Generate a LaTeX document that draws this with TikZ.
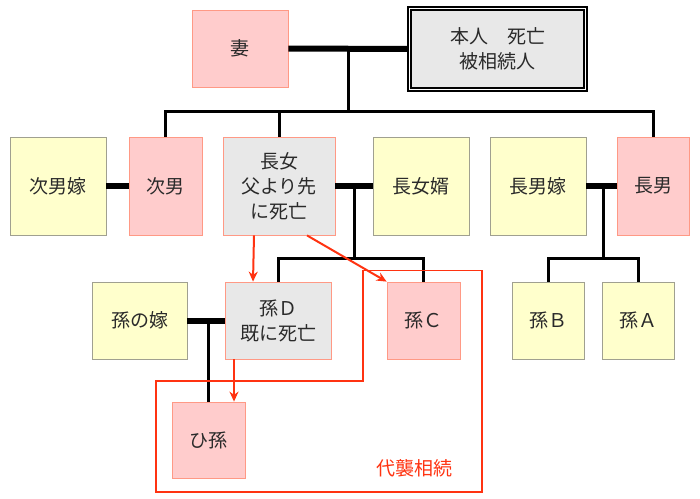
\documentclass[tikz,border=0pt]{standalone}
\usepackage{fontspec}
\newfontfamily\jp{Noto Sans CJK JP}
\usetikzlibrary{arrows.meta}
\definecolor{pinkfill}{HTML}{FFCCCC}
\definecolor{pinkline}{HTML}{FF9985}
\definecolor{yelfill}{HTML}{FFFFCC}
\definecolor{yelline}{HTML}{A0A090}
\definecolor{grayfill}{HTML}{E8E8E8}
\definecolor{redline}{HTML}{FF3311}
\definecolor{txt}{HTML}{2A2A2A}

\begin{document}
\begin{tikzpicture}[x=1pt,y=-1pt,
    box/.style={rectangle,inner sep=0pt,line width=0.8pt,align=center,text=txt,
      font=\jp\fontsize{19}{25}\selectfont},
    pinkbox/.style={box,fill=pinkfill,draw=pinkline},
    yelbox/.style={box,fill=yelfill,draw=yelline},
    deadbox/.style={box,fill=grayfill,draw=pinkline},
    tie/.style={line width=6pt},
    kin/.style={line width=3pt},
    heir/.style={draw=redline,line width=2pt,-{Stealth[length=10pt,width=9pt]}}]
    \useasboundingbox (0,0) rectangle (700,498);
    \def\rowb{186}
    \def\rowc{320.5}
    % generation 1
    \node[pinkbox,minimum width=96,minimum height=77] (tsuma) at (240,48.5) {妻};
    \node[box,fill=grayfill,draw=black,line width=1.4pt,double=white,double distance=1.6pt,
      minimum width=176,minimum height=81] (honnin) at (497.5,49) {本人　死亡\\被相続人};
    % generation 2
    \node[yelbox,minimum width=96,minimum height=98] (jinanyome) at (58,\rowb) {次男嫁};
    \node[pinkbox,minimum width=73,minimum height=98] (jinan) at (165.5,\rowb) {次男};
    \node[deadbox,minimum width=112,minimum height=98] (chojo) at (279,\rowb) {長女\\父より先\\に死亡};
    \node[yelbox,minimum width=96,minimum height=98] (chojomuko) at (421,\rowb) {長女婿};
    \node[yelbox,minimum width=96,minimum height=98] (chonanyome) at (538,\rowb) {長男嫁};
    \node[pinkbox,minimum width=72,minimum height=98] (chonan) at (653,\rowb) {長男};
    % generation 3
    \node[yelbox,minimum width=95,minimum height=77] (magoyome) at (139.5,\rowc) {孫の嫁};
    \node[deadbox,minimum width=106,minimum height=77] (magoD) at (278,\rowc) {孫Ｄ\\既に死亡};
    \node[pinkbox,minimum width=73,minimum height=77] (magoC) at (423.5,\rowc) {孫Ｃ};
    \node[yelbox,minimum width=72,minimum height=77] (magoB) at (548,\rowc) {孫Ｂ};
    \node[yelbox,minimum width=72,minimum height=77] (magoA) at (638,\rowc) {孫Ａ};
    \node[pinkbox,minimum width=73,minimum height=76] (himago) at (208.5,440) {ひ孫};
    % couples and children
    \coordinate (m1) at (348,49);
    \coordinate (b1) at (348,111);
    \coordinate (m2) at (354,\rowb);
    \coordinate (b2) at (354,258);
    \coordinate (m3) at (603,\rowb);
    \coordinate (b3) at (603,258);
    \coordinate (m4) at (208.5,\rowc);
    \draw[tie] (tsuma.east) -- (honnin.west);
    \draw[kin] (m1) -- (b1);
    \draw[kin] (jinan.north) -- (jinan.north |- b1) -- (chonan.north |- b1) -- (chonan.north);
    \draw[kin] (chojo.north) -- (chojo.north |- b1);
    \draw[tie] (jinanyome.east) -- (jinan.west);
    \draw[tie] (chojo.east) -- (chojomuko.west);
    \draw[tie] (chonanyome.east) -- (chonan.west);
    \draw[kin] (m2) -- (b2);
    \draw[kin] (magoD.north) -- (magoD.north |- b2) -- (magoC.north |- b2) -- (magoC.north);
    \draw[kin] (m3) -- (b3);
    \draw[kin] (magoB.north) -- (magoB.north |- b3) -- (magoA.north |- b3) -- (magoA.north);
    \draw[tie] (magoyome.east) -- (magoD.west);
    \draw[kin] (m4) -- (himago.north);
    % representation
    \draw[redline,line width=1.5pt] (363,270.5) -- (482,270.5) -- (482,492) -- (156,492)
      -- (156,381) -- (363,381) -- cycle;
    \node[font=\jp\fontsize{19}{25}\selectfont,text=redline] (daishu) at (414,468) {代襲相続};
    \draw[heir] ([xshift=-25pt]chojo.south) -- ([xshift=-25pt]magoD.north);
    \draw[heir] ([xshift=28pt]chojo.south) -- (magoC.north west);
    \draw[heir] ([xshift=-44pt]magoD.south) -- ([xshift=25.5pt]himago.north);
\end{tikzpicture}
\end{document}
